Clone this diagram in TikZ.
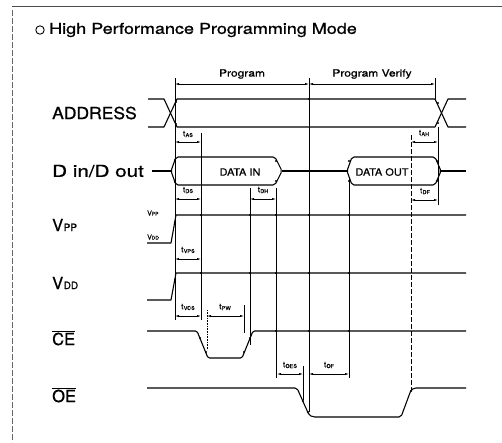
\documentclass[tikz,border=0pt]{standalone}
\usepackage{fontspec}
\setmainfont{TeX Gyre Heros}
\newfontfamily\heavy[FakeBold=0.8]{TeX Gyre Heros}
\newfontfamily\semi[FakeBold=0.3]{TeX Gyre Heros}
\usetikzlibrary{arrows.meta}
\newcommand{\tsub}[1]{{\semi\fontsize{8}{8}\selectfont t\kern0.3pt\raisebox{-0.8pt}{\fontsize{5.5}{5.5}\selectfont #1}}}
\begin{document}
\begin{tikzpicture}[x=1pt,y=-1pt,
  sig/.style={line width=1.1pt, line join=round},
  ref/.style={line width=0.6pt},
  mk/.style={fill=black, inner sep=0pt, minimum size=2.4pt, circle},
  dim/.style={line width=0.6pt,{Latex[length=4pt,width=2.2pt]}-{Latex[length=4pt,width=2.2pt]}},
  lab/.style={inner sep=0pt, anchor=west, font=\heavy\fontsize{16.5}{17}\selectfont},
  tl/.style={inner sep=0pt, anchor=center},
  wl/.style={inner sep=0pt, anchor=center, font=\heavy\fontsize{10}{10}\selectfont}]
\useasboundingbox (0,0) rectangle (502,442);
% page frame
\draw[line width=0.8pt, black!70] (12,6) -- (502,6);
\draw[line width=0.6pt, black!60, dash pattern=on 6pt off 2pt] (12,10) -- (12,442);
% title
\draw[line width=0.9pt] (40,30) circle (4.2);
\node[inner sep=0pt, anchor=west, font=\heavy\fontsize{15}{15}\selectfont] (title) at (49,30) {\scalebox{1.2}[1]{High Performance Programming Mode}};
% signal labels
\node[lab] (addr) at (52,113) {\scalebox{1.06}[1]{ADDRESS}};
\node[lab] (din) at (52,171) {\scalebox{1.25}[1]{D in/D out}};
\node[lab] (vpp) at (52,225) {V\kern0.5pt{\fontsize{10}{10}\selectfont PP}};
\node[lab] (vdd) at (52,283) {V\kern0.5pt{\fontsize{10}{10}\selectfont DD}};
\node[lab] (ce) at (52,338) {$\overline{\mbox{\heavy CE}}$};
\node[lab] (oe) at (52,395) {$\overline{\mbox{\heavy OE}}$};
% small level labels
\node[inner sep=0pt, anchor=west] (lvpp) at (147,213) {\semi{\fontsize{7}{7}\selectfont V}{\fontsize{5}{5}\selectfont PP}};
\node[inner sep=0pt, anchor=west] (lvdd) at (147,237) {\semi{\fontsize{7}{7}\selectfont V}{\fontsize{5}{5}\selectfont DD}};
% reference lines
\draw[ref] (175,78) -- (175,320);
\draw[ref] (201,133) -- (201,320);
\draw[ref, densely dotted] (207,310) -- (207,350);
\draw[ref] (244,305) -- (244,333);
\draw[ref] (250,188) -- (250,345);
\draw[ref] (276,188) -- (276,378);
\draw[ref] (303,366) -- (303,400);
\draw[ref] (309,78) -- (309,412);
\draw[ref] (349,178) -- (349,378);
\draw[ref, dash pattern=on 5pt off 2pt] (411,135) -- (411,390);
\draw[ref] (435,78) -- (435,99);
\draw[ref] (438,127) -- (438,205);
% dimensions
\draw[dim] (175,84) -- (309,84);
\draw[dim] (309,84) -- (435,84);
\node[wl] (prog) at (242,74) {\scalebox{1.2}[1]{Program}};
\node[wl] (progv) at (372,74) {\scalebox{1.2}[1]{Program Verify}};
\draw[dim] (175,142) -- (201,142);
\node[tl] (tas) at (188,134) {\tsub{AS}};
\draw[dim] (411,142) -- (438,142);
\node[tl] (tah) at (424,133) {\tsub{AH}};
\draw[dim] (175,199) -- (201,199);
\node[tl] (tds) at (188,190) {\tsub{DS}};
\draw[dim] (250,199) -- (276,199);
\node[tl] (tdh) at (263,190) {\tsub{DH}};
\draw[dim] (411,200) -- (438,200);
\node[tl] (tdf) at (425,191) {\tsub{DF}};
\draw[dim] (175,259) -- (201,259);
\node[tl] (tvps) at (188,250) {\tsub{VPS}};
\draw[dim] (175,316) -- (201,316);
\node[tl] (tvcs) at (188,307) {\tsub{VCS}};
\draw[dim] (207,316) -- (244,316);
\node[tl] (tpw) at (225,307) {\tsub{PW}};
\draw[dim] (277,374) -- (303,374);
\node[tl] (toes) at (290,365) {\tsub{OES}};
\draw[dim] (309,374) -- (349,374);
\node[tl] (tof) at (329,365) {\tsub{OF}};
% ADDRESS
\draw[sig] (148,99) -- (164,99) -- (177,127) -- (435,127) -- (448,99) -- (466,99);
\draw[sig] (148,127) -- (164,127) -- (177,99) -- (435,99) -- (448,127) -- (466,127);
% D in / D out
\draw[sig] (152,171) -- (171,171);
\draw[sig, rounded corners=2pt] (171,171) -- (176,157) -- (275,157) -- (282,171) -- (275,185) -- (176,185) -- cycle;
\draw[sig] (282,171) -- (347,171);
\draw[sig, rounded corners=2pt] (347,171) -- (352,157) -- (435,157) -- (441,171) -- (435,185) -- (352,185) -- cycle;
\draw[sig] (441,171) -- (466,171);
\node[wl] (datain) at (240,172) {\scalebox{1.1}[1]{DATA IN}};
\node[wl] (dataout) at (382,172) {\scalebox{1.1}[1]{DATA OUT}};
% VPP
\draw[sig] (147,243) -- (171,243) -- (176,215) -- (466,215);
% VDD
\draw[sig] (147,300) -- (171,300) -- (176,273) -- (466,273);
% CE
\draw[sig, rounded corners=1.5pt] (147,331) -- (197,331) -- (208,358) -- (242,358) -- (253,331) -- (466,331);
% OE
\draw[sig, rounded corners=2pt] (147,388) -- (297,388) -- (309,415) -- (313,417) -- (401,417) -- (411,390) -- (414,388) -- (466,388);
% reference marks on transitions and crossings
\foreach \p in {(176,102),(176,124),(175,160),(175,182),(276,161),(276,181),(349,161),(349,181),(437,161),(437,181),(438,103),(438,123),(309,99),(309,171),
  (175,222),(201,215),(250,215),(276,215),(309,215),(349,215),
  (175,280),(201,273),(250,273),(276,273),(309,273),(349,273),
  (200,338),(206,352),(244,352),(250,338),(276,331),(309,331),(349,331),
  (303,401),(308,412),(411,391)}
  \node[mk] at \p {};
\end{tikzpicture}
\end{document}
